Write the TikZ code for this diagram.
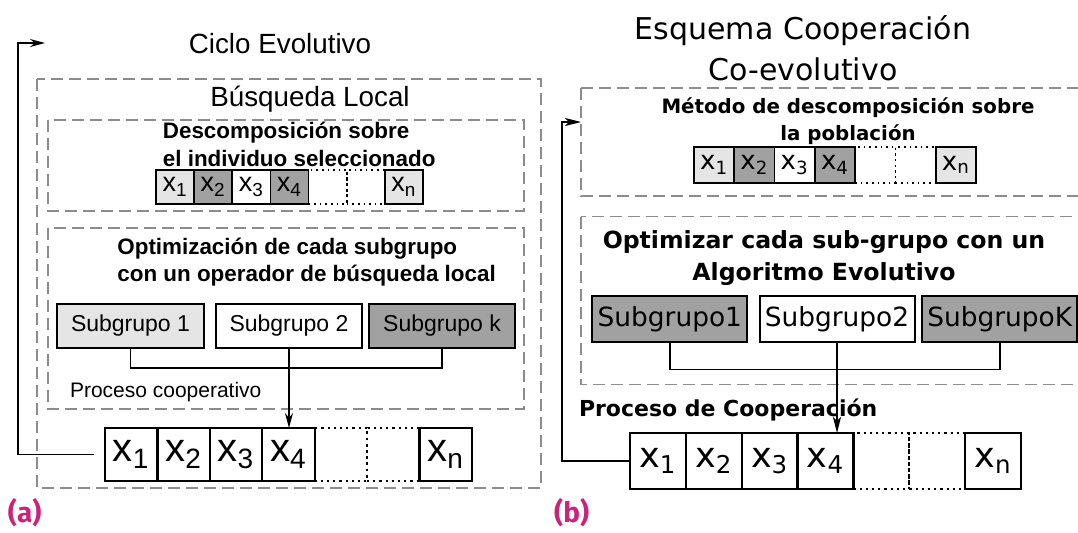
\documentclass[tikz,border=0pt]{standalone}
\usepackage{fontspec}
\setmainfont{Liberation Sans}
\newfontfamily\dejavu{DejaVu Sans}
\newfontfamily\fira{Fira Sans}
\newcommand\fsz[2]{\fontsize{#1}{#2}\selectfont}
\usetikzlibrary{arrows.meta}

\begin{document}
\begin{tikzpicture}
[x=0.5pt,y=-0.5pt,line cap=butt,
% Styles
frame/.style={draw=black!45,line width=0.6pt,dash pattern=on 6pt off 3pt},
conn/.style={line width=0.8pt},
cell/.style={draw,inner sep=0pt,outer sep=0pt},
dotcell/.style={cell,dotted,line width=0.9pt},
smallA/.style={cell,line width=0.8pt,minimum width=19.07pt,minimum height=17pt,font=\fsz{13.5pt}{14pt}},
bigA/.style={cell,line width=1.1pt,minimum width=26.2pt,minimum height=26.5pt,font=\fsz{20pt}{22pt}},
smallB/.style={cell,line width=0.8pt,minimum width=20.14pt,minimum height=18pt,font=\dejavu\fsz{13pt}{14pt}},
bigB/.style={cell,line width=1.1pt,minimum width=27.93pt,minimum height=27.85pt,font=\dejavu\fsz{17.5pt}{19pt}},
groupA/.style={cell,line width=1pt,minimum width=73.35pt,minimum height=21.7pt,font=\fsz{11.5pt}{12pt}},
groupB/.style={cell,line width=1pt,minimum width=77.5pt,minimum height=22.85pt,font=\dejavu\fsz{13.2pt}{14pt}},
tipA/.style={-{Stealth[length=7.5pt,width=4pt]}},
tipB/.style={-{Stealth[length=8pt,width=4pt,inset=2pt]}},
sublabel/.style={inner sep=0pt,font=\fira\bfseries\fsz{14pt}{15pt},text=labelcolor}]
% Colors
\colorlet{lightcell}{black!10}
\colorlet{darkcell}{black!37}
\definecolor{labelcolor}{RGB}{200,36,122}

\useasboundingbox (0,0) rectangle (1078,532);

% (a) Ciclo Evolutivo
\node[anchor=base,inner sep=0pt,font=\fsz{13.9pt}{16pt}] (titleA) at (280,53.3) {Ciclo Evolutivo};
\draw[frame] (37,79) rectangle (541,488);
\node[anchor=base,inner sep=0pt,font=\fsz{13.9pt}{16pt}] (localA) at (310,106) {Búsqueda Local};
\draw[frame] (48,120) rectangle (524,211);
\node[anchor=base west,inner sep=0pt,align=left,font=\bfseries\fsz{11.2pt}{14.2pt}] (decA) at (162.5,166.7)
{Descomposición sobre\\el individuo seleccionado};
\foreach \i in {5,6}
\node[smallA,dotcell] (sa\i) at ({156+38.14*(\i-0.5)},187) {};
\foreach \i/\f/\t in {1/lightcell/1,2/darkcell/2,3/white/3,4/darkcell/4,7/lightcell/n}
\node[smallA,fill=\f] (sa\i) at ({156+38.14*(\i-0.5)},187) {x\textsubscript{\t}};

\draw[frame] (48,228) rectangle (524,409);
\node[anchor=base west,inner sep=0pt,align=left,font=\bfseries\fsz{11.2pt}{13.85pt}] (optA) at (117,281.7)
{Optimización de cada subgrupo\\con un operador de búsqueda local};
\node[groupA,fill=lightcell] (ga1) at (130.5,326) {Subgrupo 1};
\node[groupA,fill=white] (ga2) at (289,326) {Subgrupo 2};
\node[groupA,fill=darkcell] (gak) at (442,326) {Subgrupo k};
\node[anchor=base west,inner sep=0pt,font=\fsz{10.5pt}{12pt}] (coopA) at (69.6,397) {Proceso cooperativo};

\foreach \i in {5,6}
\node[bigA,dotcell] (ba\i) at ({105+52.4*(\i-0.5)},454.5) {};
\foreach \i/\t in {1/1,2/2,3/3,4/4,7/n}
\node[bigA,fill=white] (ba\i) at ({105+52.4*(\i-0.5)},454.5) {x\textsubscript{\t}};

\draw[conn] (ga1.south) -- ++(0,20) -| (gak.south);
\draw[conn,tipA] (ga2.south) -- (ga2.south |- ba4.north);
\coordinate (startA) at ([xshift=-5.5pt]ba1.west);
\coordinate (loopA) at (45,43);
\draw[conn,tipA] (startA) -| ([xshift=-13.5pt]loopA) -- (loopA);
\node[sublabel,anchor=base west] (labA) at (7.6,522) {(a)};

% (b) Esquema Cooperacion Co-evolutivo
\node[anchor=base,inner sep=0pt,align=center,font=\dejavu\fsz{15pt}{20.5pt}] (titleB) at (803,80)
{Esquema Cooperación\\Co-evolutivo};
\draw[frame] (581,88) rectangle (1100,196);
\node[anchor=base,inner sep=0pt,align=center,font=\dejavu\bfseries\fsz{9.9pt}{13.35pt}] (decB) at (848,140)
{Método de descomposición sobre\\la población};
\foreach \i in {5,6}
\node[smallB,dotcell] (sb\i) at ({694+40.29*(\i-0.5)},164.7) {};
\foreach \i/\f/\t in {1/lightcell/1,2/darkcell/2,3/white/3,4/darkcell/4,7/lightcell/n}
\node[smallB,fill=\f] (sb\i) at ({694+40.29*(\i-0.5)},164.7) {x\textsubscript{\t}};

\draw[frame] (581,216.7) rectangle (1100,384.3);
\node[anchor=base,inner sep=0pt,align=center,font=\dejavu\bfseries\fsz{11.8pt}{16pt}] (optB) at (824,280)
{Optimizar cada sub-grupo con un\\Algoritmo Evolutivo};
\node[groupB,fill=darkcell] (gb1) at (669.8,318.85) {Subgrupo1};
\node[groupB,fill=white] (gb2) at (837,318.85) {Subgrupo2};
\node[groupB,fill=darkcell] (gbk) at (999.7,318.85) {SubgrupoK};
\node[anchor=base west,inner sep=0pt,font=\dejavu\bfseries\fsz{11pt}{12pt}] (coopB) at (578.6,416.7) {Proceso de Cooperación};

\foreach \i in {5,6}
\node[bigB,dotcell] (bb\i) at ({630+55.86*(\i-0.5)},460.85) {};
\foreach \i/\t in {1/1,2/2,3/3,4/4,7/n}
\node[bigB,fill=white] (bb\i) at ({630+55.86*(\i-0.5)},460.85) {x\textsubscript{\t}};

\draw[conn] (gb1.south) -- ++(0,27.6) -| (gbk.south);
\draw[conn,tipB] (gb2.south) -- (gb2.south |- bb4.north);
\coordinate (loopB) at (581,122);
\draw[conn,tipB] (bb1.west) -| ([xshift=-9.5pt]loopB) -- (loopB);
\node[sublabel,anchor=base west] (labB) at (553.8,522) {(b)};
\end{tikzpicture}
\end{document}
